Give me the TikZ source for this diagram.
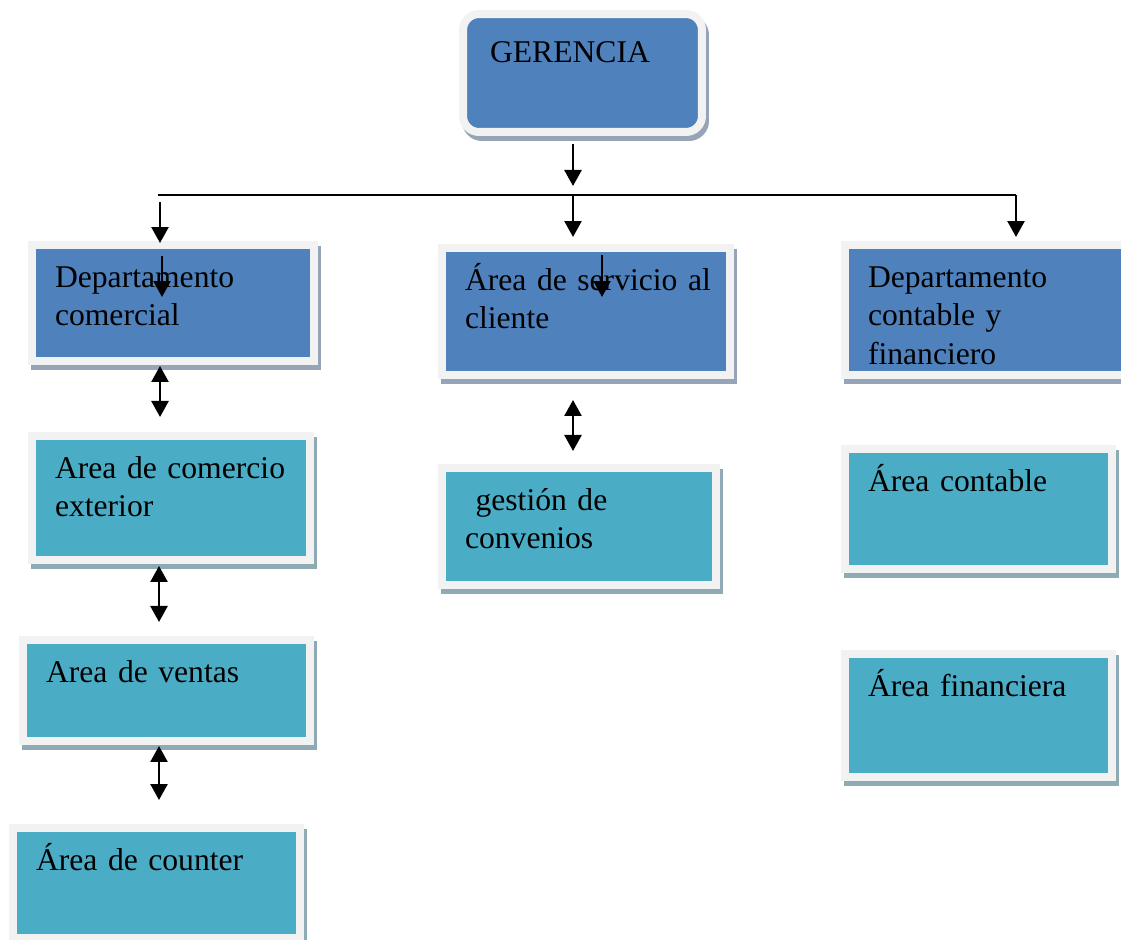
\documentclass[tikz,border=0pt]{standalone}
\usepackage{fontspec}
\setmainfont{Liberation Serif}
\usetikzlibrary{positioning,shadows,arrows.meta}

\definecolor{deptblue}{RGB}{79,129,189}
\definecolor{areablue}{RGB}{75,172,198}
\definecolor{framegray}{RGB}{242,242,242}
\definecolor{deptshade}{RGB}{150,164,183}
\definecolor{areashade}{RGB}{141,170,181}

\tikzset{
  box/.style={rectangle, draw=framegray, line width=0.16cm, align=left,
    inner xsep=0.46cm, inner ysep=0pt, text height=0.84cm,
    font=\fontsize{18}{22}\selectfont},
  dept/.style={box, fill=deptblue, general shadow={fill=deptshade, draw=deptshade,
    line width=0.16cm, shadow xshift=0.06cm, shadow yshift=-0.1cm}},
  area/.style={box, fill=areablue, general shadow={fill=areashade, draw=areashade,
    line width=0.16cm, shadow xshift=0.06cm, shadow yshift=-0.1cm}},
  head/.style={dept, rounded corners=0.32cm, inner xsep=0.54cm, text height=0.98cm},
  arr/.style={line width=0.05cm, -{Triangle[width=0.34cm,length=0.32cm]}},
  dbl/.style={line width=0.05cm, {Triangle[width=0.34cm,length=0.32cm]}-{Triangle[width=0.34cm,length=0.32cm]}},
}

\begin{document}
\begin{tikzpicture}[x=0.02cm, y=-0.02cm]
\useasboundingbox (0,0) rectangle (1121,939);

\node[head, text width=3.70cm, text depth=1.38cm] (ger) at (582.5,73) {GERENCIA};

\node[dept, text width=4.72cm, text depth=1.48cm] (depcom) at (173,303) {Departamento\\comercial};
\node[dept, text width=4.84cm, text depth=1.70cm] (serv) at (586,311.5) {\mbox{Área de servicio al}\\cliente};
\node[dept, text width=4.96cm, text depth=1.76cm] (depfin) at (992,310) {Departamento\\contable y\\financiero};

\node[area, text width=4.64cm, text depth=1.64cm] (comext) at (171,498) {Area de comercio\\exterior};
\node[area, text width=4.82cm, text depth=1.18cm] (ventas) at (166.5,690.5) {Area de ventas};
\node[area, text width=4.82cm, text depth=1.36cm] (counter) at (156.5,883) {Área de counter};

\node[area, text width=4.56cm, text depth=1.50cm] (conven) at (579,526.5) {~gestión de\\convenios};

\node[area, text width=4.42cm, text depth=1.56cm] (contab) at (978.5,509) {Área contable};
\node[area, text width=4.42cm, text depth=1.62cm] (finan) at (978.5,715.5) {Área financiera};

\coordinate (colA) at (160,0);
\coordinate (colB) at (573,0);
\coordinate (bl) at (158,195);
\coordinate (br) at (1016,195);
\coordinate (sA) at (162,256);
\coordinate (sB) at (602,255);

\draw[arr] (colB |- ger.south) ++(0,8) -- ++(0,42);
\draw[line width=0.03cm] (bl) -- (br);
\draw[arr] (colA |- bl) ++(0,7) -- ++(0,41);
\draw[arr] (colB |- bl) -- ++(0,42);
\draw[arr] (br) -- ++(0,42);
\draw[arr] (sA) -- ++(0,41);
\draw[arr] (sB) -- ++(0,42);

\draw[dbl] (colA |- depcom.south) ++(0,1) -- ++(0,51);
\draw[dbl] (colA |- comext.south) ++(-1,2) -- ++(0,56);
\draw[dbl] (colA |- ventas.south) ++(-1,1) -- ++(0,54);
\draw[dbl] (colB |- serv.south) ++(0,21) -- ++(0,51);
\end{tikzpicture}
\end{document}
